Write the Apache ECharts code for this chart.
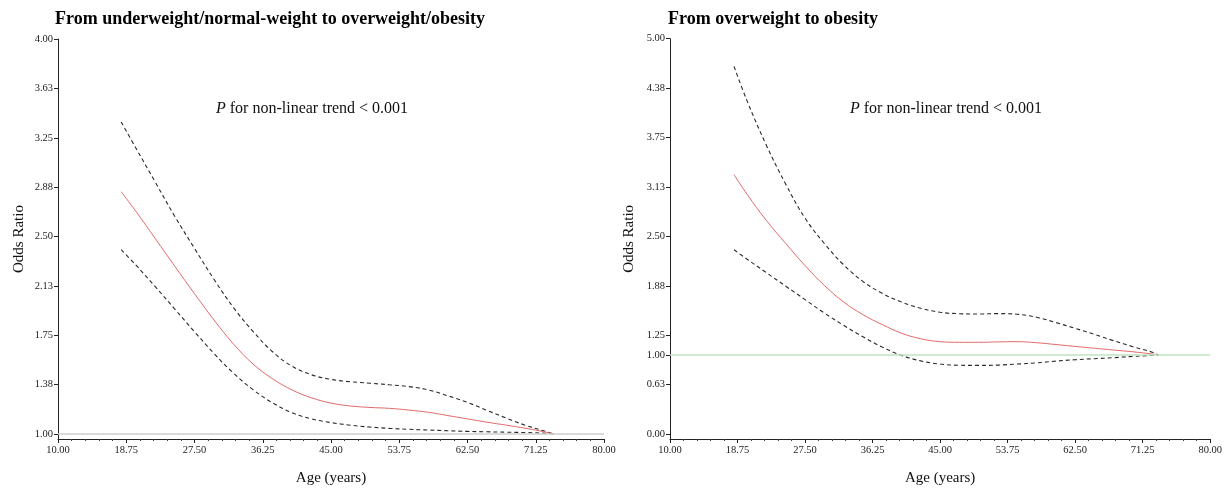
<!DOCTYPE html>
<html><head><meta charset="utf-8">
<script src="https://cdn.jsdelivr.net/npm/echarts@6/dist/echarts.min.js"></script>
<style>html,body{margin:0;padding:0;background:#fff}#c{width:1225px;height:491px}</style>
</head><body><div id="c"></div>
<script>
// ---- tick values ----
const xTicks = [10, 18.75, 27.5, 36.25, 45, 53.75, 62.5, 71.25, 80];
const leftYTicks = [1, 1.375, 1.75, 2.125, 2.5, 2.875, 3.25, 3.625, 4];
const rightYTicks = [0, 0.625, 1, 1.25, 1.875, 2.5, 3.125, 3.75, 4.375, 5];

// ---- texts ----
const panelTitles = ['From underweight/normal-weight to overweight/obesity', 'From overweight to obesity'];
const pNote = ' for non-linear trend < 0.001';
const xName = 'Age (years)';
const yName = 'Odds Ratio';

// ---- left panel: underweight/normal -> overweight/obesity ----
const leftAge   = [18.1, 20, 22.5, 25, 27.5, 30, 32.5, 35, 37.5, 40, 42.5, 45, 47.5, 50, 52.5, 55, 57.5, 60, 62.5, 65, 67.5, 70, 72.5, 73.6];
const leftOR    = [2.84, 2.69, 2.482, 2.272, 2.066, 1.866, 1.684, 1.532, 1.42, 1.335, 1.275, 1.235, 1.213, 1.202, 1.195, 1.182, 1.165, 1.14, 1.115, 1.09, 1.067, 1.043, 1.015, 1.0];
const leftUpper = [3.37, 3.17, 2.91, 2.65, 2.41, 2.175, 1.96, 1.78, 1.625, 1.515, 1.45, 1.415, 1.397, 1.386, 1.374, 1.36, 1.335, 1.29, 1.24, 1.18, 1.12, 1.065, 1.02, 1.0];
const leftLower = [2.40, 2.282, 2.117, 1.947, 1.777, 1.612, 1.462, 1.337, 1.237, 1.162, 1.115, 1.087, 1.067, 1.053, 1.043, 1.036, 1.03, 1.025, 1.02, 1.017, 1.014, 1.011, 1.006, 1.0];

// ---- right panel: overweight -> obesity ----
const rightAge   = [18.3, 20, 22.5, 25, 27.5, 30, 32.5, 35, 37.5, 40, 42.5, 45, 47.5, 50, 52.5, 55, 57.5, 60, 62.5, 65, 67.5, 70, 72.5, 73.3];
const rightOR    = [3.28, 3.03, 2.70, 2.41, 2.13, 1.88, 1.67, 1.51, 1.385, 1.275, 1.205, 1.168, 1.16, 1.16, 1.165, 1.168, 1.155, 1.132, 1.108, 1.085, 1.062, 1.04, 1.012, 1.0];
const rightUpper = [4.65, 4.21, 3.65, 3.16, 2.73, 2.41, 2.14, 1.93, 1.78, 1.67, 1.59, 1.54, 1.522, 1.518, 1.523, 1.515, 1.477, 1.41, 1.337, 1.26, 1.18, 1.105, 1.035, 1.0];
const rightLower = [2.33, 2.21, 2.04, 1.87, 1.70, 1.53, 1.375, 1.23, 1.10, 0.995, 0.925, 0.885, 0.87, 0.868, 0.872, 0.885, 0.9, 0.922, 0.94, 0.953, 0.966, 0.982, 0.995, 1.0];

const SERIF = '"Liberation Serif", "Times New Roman", serif';
const pairs = (xs, ys) => xs.map((x, i) => [x, ys[i]]);
const fmt = v => Number(v).toFixed(2);

function xAxisCfg(gi) {
  return {
    type: 'value', gridIndex: gi, min: 10, max: 80, interval: 8.75,
    name: xName, nameLocation: 'middle', nameGap: 32,
    nameTextStyle: { fontFamily: SERIF, fontSize: 15, color: '#111' },
    axisLine: { onZero: false, lineStyle: { color: '#222', width: 1 } },
    axisTick: { show: true, length: 4, lineStyle: { color: '#222' } },
    minorTick: { show: true, splitNumber: 5, length: 2, lineStyle: { color: '#444' } },
    axisLabel: { formatter: fmt, fontFamily: SERIF, fontSize: 10.5, color: '#222', margin: 6,
                 customValues: xTicks, showMinLabel: true, showMaxLabel: true },
    splitLine: { show: false }
  };
}
function yAxisCfg(gi, min, max, ticks, gap) {
  return {
    type: 'value', gridIndex: gi, min: min, max: max,
    name: yName, nameLocation: 'middle', nameGap: gap,
    nameTextStyle: { fontFamily: SERIF, fontSize: 15, color: '#111' },
    axisLine: { show: true, onZero: false, lineStyle: { color: '#222', width: 1 } },
    axisTick: { show: true, length: 4, customValues: ticks, lineStyle: { color: '#222' } },
    axisLabel: { formatter: fmt, fontFamily: SERIF, fontSize: 10.5, color: '#222', margin: 5, customValues: ticks },
    splitLine: { show: false }
  };
}
function band(gi, name, xs, ys, dashed, color, mark) {
  const s = {
    type: 'line', name: name, xAxisIndex: gi, yAxisIndex: gi,
    data: pairs(xs, ys), smooth: 0.4, showSymbol: false, silent: true,
    lineStyle: { color: color, width: dashed ? 1.1 : 1, type: dashed ? [4, 3] : 'solid' },
    z: dashed ? 3 : 4
  };
  if (mark) {
    s.markLine = { symbol: 'none', silent: true, animation: false, label: { show: false },
      lineStyle: { color: mark, width: 1.5, type: 'solid' }, data: [{ yAxis: 1 }] };
  }
  return s;
}
function pTitle(x) {
  return { text: '{i|P}' + pNote, left: x, top: 96,
    textStyle: { fontFamily: SERIF, fontSize: 16, fontWeight: 'normal', color: '#111',
      rich: { i: { fontFamily: SERIF, fontSize: 16, fontStyle: 'italic', color: '#111' } } } };
}

const chart = echarts.init(document.getElementById('c'), null, { renderer: 'canvas' });
chart.setOption({
  animation: false,
  backgroundColor: '#fff',
  title: [
    { text: panelTitles[0], left: 50, top: 5, textStyle: { fontFamily: SERIF, fontWeight: 'bold', fontSize: 18, color: '#000' } },
    { text: panelTitles[1], left: 663, top: 5, textStyle: { fontFamily: SERIF, fontWeight: 'bold', fontSize: 18, color: '#000' } },
    pTitle(211),
    pTitle(845)
  ],
  grid: [
    { left: 58, top: 39, width: 546, height: 402.7 },
    { left: 670, top: 38.7, width: 548, height: 403 }
  ],
  xAxis: [xAxisCfg(0), xAxisCfg(1)],
  yAxis: [yAxisCfg(0, 0.9623, 4, leftYTicks, 31), yAxisCfg(1, -0.0629, 5, rightYTicks, 33)],
  series: [
    band(0, 'left upper', leftAge, leftUpper, true, '#2a2a2a'),
    band(0, 'left OR', leftAge, leftOR, false, '#e46a6a', '#cfcfcf'),
    band(0, 'left lower', leftAge, leftLower, true, '#2a2a2a'),
    band(1, 'right upper', rightAge, rightUpper, true, '#2a2a2a'),
    band(1, 'right OR', rightAge, rightOR, false, '#e46a6a', '#bfe3bf'),
    band(1, 'right lower', rightAge, rightLower, true, '#2a2a2a')
  ]
});
</script>
</body></html>
